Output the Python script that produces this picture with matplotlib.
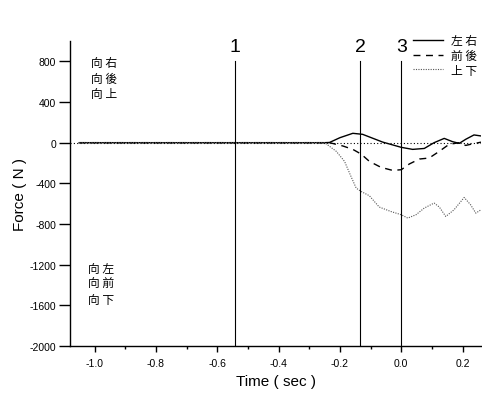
import matplotlib
matplotlib.use("Agg")
import matplotlib.pyplot as plt
from matplotlib.ticker import MultipleLocator

plt.rcParams['font.family'] = ['Liberation Sans', 'Noto Sans CJK TC', 'DejaVu Sans']
plt.rcParams['axes.unicode_minus'] = False

# ==============================
# DATOS
# ==============================

# 左右 (línea continua)
t_lr = [-1.05, -0.25, -0.234, -0.2, -0.158, -0.126, -0.061, 0.0, 0.037, 0.075,
        0.107, 0.14, 0.167, 0.189, 0.21, 0.237, 0.26]
f_lr = [0, 0, 2, 49, 92, 82, 6, -46, -66, -57,
        0, 42, 10, -7, 33, 76, 66]

# 前後 (línea discontinua)
t_fb = [-1.05, -0.25, -0.234, -0.19, -0.158, -0.131, -0.104, -0.066, -0.028, 0.0,
        0.026, 0.059, 0.091, 0.124, 0.156, 0.189, 0.21, 0.24, 0.26]
f_fb = [0, 0, 0, -33, -66, -112, -184, -243, -273, -266,
        -210, -161, -151, -85, -16, 0, -27, -7, 5]

# 上下 (línea punteada)
t_ud = [-1.05, -0.25, -0.212, -0.185, -0.164, -0.147, -0.131, -0.104, -0.072, -0.034,
        0.0, 0.021, 0.048, 0.075, 0.107, 0.124, 0.145, 0.172, 0.205, 0.226, 0.243, 0.26]
f_ud = [0, 0, -85, -184, -332, -447, -480, -522, -633, -677,
        -709, -742, -709, -643, -594, -633, -726, -660, -539, -611, -693, -660]

# eventos (líneas verticales)
event_t = [-0.543, -0.133, 0.0]
event_labels = ["1", "2", "3"]

x_ticks = [-1.0, -0.8, -0.6, -0.4, -0.2, 0.0, 0.2]
y_ticks = [-2000, -1600, -1200, -800, -400, 0, 400, 800]

# ==============================
# GRAFICO
# ==============================
fig = plt.figure(figsize=(4.82, 4.02), dpi=100)
ax = fig.add_axes([70 / 482, 1 - 347 / 402, 1 - 70 / 482 - 0.002, (347 - 42) / 402])

ax.axhline(0, color="black", lw=0.8, ls=(0, (1, 2)))

l1, = ax.plot(t_lr, f_lr, color="black", lw=1.0, ls="-", label="左 右")
l2, = ax.plot(t_fb, f_fb, color="black", lw=1.0, ls=(0, (5, 4)), label="前 後")
l3, = ax.plot(t_ud, f_ud, color="#555555", lw=0.8, ls=(0, (1, 1.2)), label="上 下")

for t, lab in zip(event_t, event_labels):
    ax.plot([t, t], [-2000, 800], color="black", lw=0.8)
    ax.text(t, 900, lab, ha="center", va="baseline", fontsize=14)

cjk = ['Noto Sans CJK TC']
ax.text(-1.01, 850, "向 右\n向 後\n向 上", fontsize=8.5, va="top", ha="left",
        linespacing=1.25, family=cjk)
ax.text(-1.02, -1170, "向 左\n向 前\n向 下", fontsize=8.5, va="top", ha="left",
        linespacing=1.25, family=cjk)

ax.set_xlim(-1.08, 0.26)
ax.set_ylim(-2000, 1000)
ax.set_xticks(x_ticks)
ax.set_xticklabels([f"{v:.1f}" for v in x_ticks])
ax.xaxis.set_minor_locator(MultipleLocator(0.1))
ax.set_yticks(y_ticks)
ax.set_yticklabels([str(v) for v in y_ticks])

ax.spines["top"].set_visible(False)
ax.spines["right"].set_visible(False)
ax.spines["left"].set_linewidth(1.0)
ax.spines["bottom"].set_linewidth(1.0)
ax.tick_params(axis="y", which="major", direction="out", length=8, width=1.0, labelsize=7.5, pad=2)
ax.tick_params(axis="x", which="major", direction="out", length=4, width=1.0, labelsize=7.5, pad=5)
ax.tick_params(axis="x", which="minor", direction="out", length=2.5, width=1.0)

ax.set_xlabel("Time ( sec )", fontsize=11, labelpad=4)
ax.set_ylabel("Force ( N )", fontsize=11, labelpad=2)

leg = ax.legend(handles=[l1, l2, l3], loc="upper left",
                bbox_to_anchor=(413 / 482, 1 - 35 / 402), bbox_transform=fig.transFigure,
                frameon=False, handlelength=2.5, handletextpad=0.75,
                labelspacing=0.15, borderpad=0, borderaxespad=0,
                prop={'family': cjk, 'size': 8.5})

fig.savefig("out.png", dpi=100)
